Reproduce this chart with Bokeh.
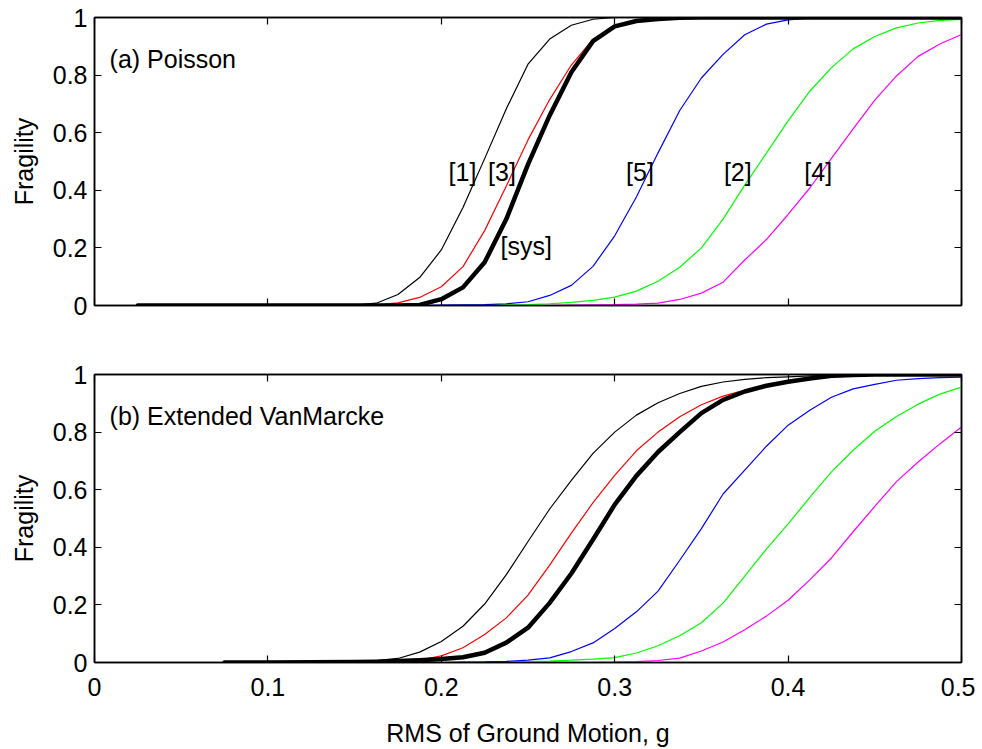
from bokeh.plotting import figure
from bokeh.layouts import column
from bokeh.models import LinearAxis, FixedTicker, Range1d, Label
from bokeh.embed import file_html
from bokeh.resources import INLINE

# ---------------- data ----------------
x_grid = [0.025, 0.05, 0.075, 0.1, 0.125, 0.15, 0.1625, 0.175, 0.1875, 0.2,
          0.2125, 0.225, 0.2375, 0.25, 0.2625, 0.275, 0.2875, 0.3, 0.3125, 0.325,
          0.3375, 0.35, 0.3625, 0.375, 0.3875, 0.4, 0.4125, 0.425, 0.4375, 0.45,
          0.4625, 0.475, 0.4875, 0.5]

# (a) Poisson
poi_1 = [0, 0, 0, 0, 0, 0.001, 0.008, 0.038, 0.097, 0.193, 0.34, 0.51, 0.683, 0.838,
         0.925, 0.973, 0.994, 1.0, 1, 1, 1, 1, 1, 1, 1, 1, 1, 1, 1, 1, 1, 1, 1, 1]
poi_2 = [0, 0, 0, 0, 0, 0, 0, 0, 0, 0, 0.001, 0.001, 0.002, 0.003, 0.006, 0.011, 0.018,
         0.029, 0.05, 0.084, 0.133, 0.2, 0.3, 0.418, 0.529, 0.641, 0.744, 0.826, 0.891,
         0.934, 0.964, 0.981, 0.99, 0.993]
poi_3 = [0, 0, 0, 0, 0, 0, 0.002, 0.009, 0.028, 0.065, 0.135, 0.26, 0.415, 0.575, 0.715,
         0.835, 0.925, 0.968, 0.988, 0.996, 1.0, 1, 1, 1, 1, 1, 1, 1, 1, 1, 1, 1, 1, 1]
poi_4 = [0, 0, 0, 0, 0, 0, 0, 0, 0, 0, 0, 0, 0, 0, 0, 0.001, 0.002, 0.003, 0.005, 0.008,
         0.021, 0.043, 0.081, 0.158, 0.229, 0.316, 0.408, 0.511, 0.613, 0.713, 0.797,
         0.865, 0.908, 0.941]
poi_5 = [0, 0, 0, 0, 0, 0, 0, 0, 0, 0.001, 0.002, 0.003, 0.006, 0.013, 0.035, 0.07,
         0.136, 0.242, 0.377, 0.53, 0.677, 0.79, 0.872, 0.94, 0.977, 0.992, 0.998,
         1, 1, 1, 1, 1, 1, 1]
poi_sys = [0, 0, 0, 0, 0, 0, 0, 0.0, 0.002, 0.022, 0.063, 0.15, 0.30, 0.49, 0.66, 0.81,
           0.918, 0.969, 0.988, 0.995, 0.999, 1, 1, 1, 1, 1, 1, 1, 1, 1, 1, 1, 1, 1]

# (b) Extended VanMarcke
vm_1 = [0, 0, 0, 0, 0.001, 0.003, 0.007, 0.014, 0.036, 0.073, 0.126, 0.203, 0.305, 0.42,
        0.533, 0.632, 0.726, 0.8, 0.859, 0.902, 0.934, 0.959, 0.974, 0.983, 0.989,
        0.992, 0.995, 0.997, 0.999, 1, 1, 1, 1, 1]
vm_2 = [0, 0, 0, 0, 0, 0, 0, 0, 0, 0, 0, 0, 0.001, 0.003, 0.005, 0.008, 0.012, 0.017,
        0.033, 0.058, 0.093, 0.138, 0.206, 0.3, 0.394, 0.481, 0.573, 0.662, 0.737,
        0.803, 0.854, 0.897, 0.932, 0.956]
vm_3 = [0, 0, 0, 0, 0, 0, 0, 0.002, 0.008, 0.023, 0.051, 0.097, 0.155, 0.234, 0.338,
        0.449, 0.555, 0.65, 0.735, 0.8, 0.853, 0.895, 0.925, 0.946, 0.962, 0.975,
        0.985, 0.991, 0.995, 0.998, 1, 1, 1, 1]
vm_4 = [0, 0, 0, 0, 0, 0, 0, 0, 0, 0, 0, 0, 0, 0, 0, 0, 0, 0.001, 0.003, 0.007, 0.015,
        0.04, 0.071, 0.114, 0.161, 0.216, 0.287, 0.363, 0.454, 0.542, 0.628, 0.696,
        0.759, 0.818]
vm_5 = [0, 0, 0, 0, 0, 0, 0, 0, 0, 0, 0.001, 0.002, 0.004, 0.008, 0.016, 0.038, 0.068,
        0.118, 0.176, 0.248, 0.355, 0.465, 0.585, 0.668, 0.751, 0.824, 0.876, 0.921,
        0.95, 0.966, 0.98, 0.986, 0.989, 0.991]
x_sys_vm = [0.075, 0.1, 0.125, 0.15, 0.1625, 0.175, 0.1875, 0.2, 0.2125, 0.225, 0.2375,
            0.25, 0.2625, 0.275, 0.2875, 0.3, 0.3125, 0.325, 0.3375, 0.35, 0.3625,
            0.375, 0.3875, 0.4, 0.4125, 0.425, 0.4375, 0.45, 0.4625, 0.475, 0.4875, 0.5]
vm_sys = [0, 0, 0.001, 0.002, 0.003, 0.005, 0.008, 0.012, 0.018, 0.034, 0.069, 0.121,
          0.207, 0.309, 0.427, 0.548, 0.648, 0.731, 0.8, 0.866, 0.912, 0.941, 0.961,
          0.975, 0.986, 0.996, 0.998, 1, 1, 1, 1, 1]

x_ticks = [0, 0.1, 0.2, 0.3, 0.4, 0.5]
x_tick_labels = ["0", "0.1", "0.2", "0.3", "0.4", "0.5"]
y_ticks = [0, 0.2, 0.4, 0.6, 0.8, 1]
y_tick_labels = ["0", "0.2", "0.4", "0.6", "0.8", "1"]

curve_colors = ["#000000", "#00FF00", "#FF0000", "#FF00FF", "#0000FF", "#000000"]

# curve labels in panel (a)
lab_names = ["[1]", "[3]", "[5]", "[2]", "[4]", "[sys]"]
lab_x = [0.2122, 0.2350, 0.3146, 0.3710, 0.4174, 0.2490]
lab_y = [0.463, 0.463, 0.463, 0.463, 0.463, 0.206]

x_title = "RMS of Ground Motion, g"

FONT = "Liberation Sans"
FS = "25px"


def style_axis(ax, show_labels, ticks, labels):
    ax.ticker = FixedTicker(ticks=ticks)
    ax.axis_line_color = "black"
    ax.axis_line_width = 1.5
    ax.major_tick_line_color = "black"
    ax.major_tick_line_width = 1.2
    ax.major_tick_in = 7
    ax.major_tick_out = 0
    ax.minor_tick_line_color = None
    ax.major_label_text_font = FONT
    ax.major_label_text_font_size = FS
    ax.major_label_text_color = "black"
    ax.axis_label_text_font = FONT
    ax.axis_label_text_font_size = FS
    ax.axis_label_text_font_style = "normal"
    ax.axis_label_text_color = "black"
    if show_labels:
        ax.major_label_overrides = {t: l for t, l in zip(ticks, labels)}
    else:
        ax.major_label_overrides = {t: "" for t in ticks}
        ax.major_label_standoff = 0


def make_panel(height, top, bottom, ys, sys_x, sys_y, title, show_x_labels):
    p = figure(width=975, height=height, x_range=Range1d(0, 0.5), y_range=Range1d(0, 1),
               output_backend="svg", toolbar_location=None,
               min_border_left=94, min_border_right=14,
               min_border_top=top, min_border_bottom=bottom)
    p.grid.visible = False
    p.outline_line_color = "black"
    p.outline_line_width = 1.5
    p.background_fill_color = "white"
    p.border_fill_color = "white"

    style_axis(p.yaxis[0], True, y_ticks, y_tick_labels)
    p.yaxis[0].axis_label = "Fragility"
    p.yaxis[0].major_label_standoff = 7
    p.yaxis[0].axis_label_standoff = 12

    style_axis(p.xaxis[0], show_x_labels, x_ticks, x_tick_labels)
    if show_x_labels:
        p.xaxis[0].major_label_standoff = 15
        p.xaxis[0].axis_label = x_title
        p.xaxis[0].axis_label_standoff = 20

    ra = LinearAxis()
    style_axis(ra, False, y_ticks, y_tick_labels)
    p.add_layout(ra, "right")
    ta = LinearAxis()
    style_axis(ta, False, x_ticks, x_tick_labels)
    p.add_layout(ta, "above")

    for yv, c in zip(ys, curve_colors[:5]):
        p.line(x_grid, yv, line_color=c, line_width=1.2)
    p.line(sys_x, sys_y, line_color="black", line_width=4.5, line_cap="round",
           line_join="round")

    p.add_layout(Label(x=0.0087, y=0.855, text=title, text_font=FONT, text_font_size=FS,
                       text_color="black", text_baseline="alphabetic", text_align="left"))
    return p


p1 = make_panel(335, 17, 30, [poi_1, poi_2, poi_3, poi_4, poi_5], x_grid, poi_sys,
                "(a) Poisson", False)
for nm, lx, ly in zip(lab_names, lab_x, lab_y):
    p1.add_layout(Label(x=lx, y=ly, text=nm, text_font=FONT, text_font_size=FS,
                        text_color="black", text_align="center", text_baseline="middle"))

p2 = make_panel(414, 39, 87, [vm_1, vm_2, vm_3, vm_4, vm_5], x_sys_vm, vm_sys,
                "(b) Extended VanMarcke", True)

layout = column(p1, p2)
open("out.html", "w").write(file_html(layout, INLINE))
